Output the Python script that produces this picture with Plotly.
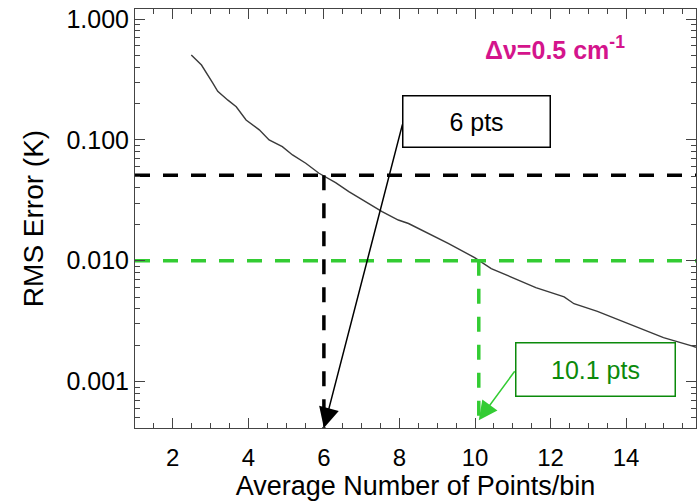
import plotly.graph_objects as go

# Curve data
avg_points = [2.49, 2.76, 3.06, 3.19, 3.46, 3.68, 3.94, 4.29, 4.55, 4.90, 5.17, 5.52,
              5.87, 6.31, 6.66, 7.19, 7.54, 7.97, 8.24, 9.29, 9.99, 10.43, 10.96,
              11.61, 12.36, 12.62, 13.24, 14.11, 14.99, 15.76, 15.85]
rms_error = [0.503, 0.416, 0.295, 0.252, 0.213, 0.188, 0.146, 0.121, 0.0998, 0.0879,
             0.0750, 0.0640, 0.0529, 0.0442, 0.0373, 0.0299, 0.0255, 0.0217, 0.0203,
             0.0139, 0.0106, 0.0086, 0.00733, 0.00598, 0.00501, 0.0044, 0.00381,
             0.00297, 0.00231, 0.00196, 0.00192]

# Thresholds
black_level = 0.051
black_pts = 6.0
green_level = 0.010
green_pts = 10.1

x_range = [1.0, 15.85]
y_range_log = [-3.385, 0.083]
y_bottom = 10 ** y_range_log[0]

y_tickvals = [0.001, 0.01, 0.1, 1.0]
y_ticktext = ["0.001", "0.010", "0.100", "1.000"]
x_tickvals = [2, 4, 6, 8, 10, 12, 14]

FONT = "Liberation Sans, Arial, Helvetica, sans-serif"
GREEN_LINE = "#33cc33"
GREEN_DARK = "#0b8a0b"
MAGENTA = "#d4148c"
DASH = "15px,13px"

fig = go.Figure()

fig.add_trace(go.Scatter(x=avg_points, y=rms_error, mode="lines",
                         line=dict(color="#3a3a3a", width=1.4), showlegend=False))

# black dashed guides
fig.add_trace(go.Scatter(x=x_range, y=[black_level, black_level], mode="lines",
                         line=dict(color="black", width=3.5, dash=DASH), showlegend=False))
fig.add_trace(go.Scatter(x=[black_pts, black_pts], y=[black_level, y_bottom], mode="lines",
                         line=dict(color="black", width=3.5, dash=DASH), showlegend=False))
# green dashed guides
fig.add_trace(go.Scatter(x=x_range, y=[green_level, green_level], mode="lines",
                         line=dict(color=GREEN_LINE, width=3.5, dash=DASH), showlegend=False))
fig.add_trace(go.Scatter(x=[green_pts, green_pts], y=[green_level, y_bottom], mode="lines",
                         line=dict(color=GREEN_LINE, width=3.5, dash=DASH), showlegend=False))

annotations = [
    # black arrow
    dict(x=black_pts, y=y_range_log[0], ax=8.09, ay=-0.860, xref="x", yref="y",
         axref="x", ayref="y", text="", showarrow=True, arrowhead=2, arrowsize=2.7,
         arrowwidth=1.5, arrowcolor="black"),
    # green arrow
    dict(x=green_pts, y=-3.32, ax=11.08, ay=-2.903, xref="x", yref="y",
         axref="x", ayref="y", text="", showarrow=True, arrowhead=2, arrowsize=2.5,
         arrowwidth=1.5, arrowcolor=GREEN_LINE),
    # 6 pts box
    dict(x=10.05, y=-0.852, xref="x", yref="y", text="6 pts", showarrow=False,
         font=dict(family=FONT, size=25, color="black"), bordercolor="black",
         borderwidth=1.5, borderpad=0, bgcolor="white", width=146, height=50,
         align="center", valign="middle"),
    # 10.1 pts box
    dict(x=13.2, y=-2.903, xref="x", yref="y", text="10.1 pts", showarrow=False,
         font=dict(family=FONT, size=25, color=GREEN_DARK), bordercolor=GREEN_DARK,
         borderwidth=1.5, borderpad=0, bgcolor="white", width=158, height=52,
         align="center", valign="middle"),
    # label
    dict(x=0.749, y=0.907, xref="paper", yref="paper", xanchor="center", yanchor="middle",
         text="<b>\u0394\u03bd=0.5 cm<sup>-1</sup></b>", showarrow=False,
         font=dict(family=FONT, size=25, color=MAGENTA)),
]

fig.update_layout(
    width=700, height=502,
    margin=dict(l=135, r=4, t=9, b=74),
    paper_bgcolor="white", plot_bgcolor="white",
    font=dict(family=FONT, color="black"),
    annotations=annotations,
    showlegend=False,
)

fig.update_xaxes(
    range=x_range, tickvals=x_tickvals, ticks="inside", ticklen=10, tickcolor="#444",
    showline=True, linecolor="#444", linewidth=1, mirror="ticks", showgrid=False,
    zeroline=False, tickfont=dict(size=24), ticklabelstandoff=8,
    minor=dict(dtick=0.5, ticks="inside", ticklen=5, tickcolor="#444", showgrid=False),
    title=dict(text="Average Number of Points/bin", font=dict(size=27), standoff=6),
)
fig.update_yaxes(
    type="log", range=y_range_log, tickvals=y_tickvals, ticktext=y_ticktext,
    ticks="inside", ticklen=10, tickcolor="#444",
    showline=True, linecolor="#444", linewidth=1, mirror="ticks", showgrid=False,
    zeroline=False, tickfont=dict(size=25),
    minor=dict(dtick="D1", ticks="inside", ticklen=5, tickcolor="#444", showgrid=False),
    title=dict(text="RMS Error (K)", font=dict(size=28), standoff=14),
)

fig.write_html("out.html")
